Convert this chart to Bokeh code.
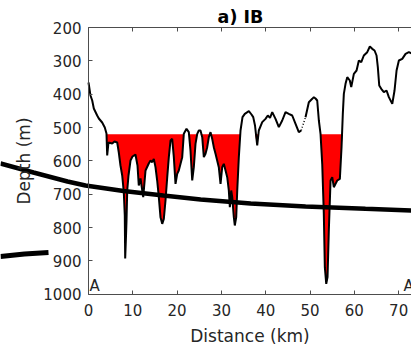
import numpy as np
from bokeh.plotting import figure
from bokeh.models import Range1d, LinearAxis, Label, FixedTicker
from bokeh.embed import file_html
from bokeh.resources import INLINE

# ---- data -------------------------------------------------------------
title_text = "a) IB"
x_ticks = [0, 10, 20, 30, 40, 50, 60, 70]
y_ticks = [200, 300, 400, 500, 600, 700, 800, 900, 1000]
threshold_depth = 520

dist_km = [0.0, 0.45, 0.84, 1.20, 1.96, 2.33, 3.09, 3.68, 4.06, 4.22, 4.51, 5.35, 5.87, 6.48, 6.84,
           7.22, 7.61, 7.97, 8.19, 8.28, 8.47, 8.58, 8.74, 9.03, 9.48, 9.93, 10.6, 11.06, 11.35,
           11.74, 12.35, 12.87, 13.6, 14.0, 14.38, 14.74, 15.12, 15.5, 15.87, 16.25, 16.64, 17.0,
           17.38, 17.77, 18.13, 18.51, 18.89, 19.26, 19.64, 20.02, 20.38, 21.15, 21.51, 22.12,
           22.64, 23.02, 23.41, 23.77, 24.15, 24.54, 24.9, 25.28, 25.67, 26.03, 26.41, 26.79,
           27.16, 27.54, 27.92, 28.28, 28.67, 29.41, 29.8, 30.18, 30.54, 30.93, 31.31, 31.67,
           31.9, 32.21, 32.44, 32.8, 33.02, 33.34, 33.57, 33.93, 34.31, 34.76, 35.28, 36.19,
           36.79, 37.18, 37.58, 38.08, 38.44, 39.21, 39.95, 40.47, 40.97, 41.47, 42.21, 42.96,
           43.72, 44.47, 45.21, 45.98, 46.73, 47.47, 48.01,
           48.98, 49.73, 50.5, 50.86, 51.24, 51.62, 51.99, 52.37, 52.75, 53.11, 53.34, 53.66,
           53.95, 54.24, 54.63, 55.01, 55.37, 55.76, 56.14, 56.73, 57.11, 57.4, 57.63, 58.01,
           58.4, 58.98, 59.3, 59.89, 60.5, 61.02, 61.56, 62.14, 62.91, 63.5, 64.04, 64.56,
           65.01, 65.3, 65.62, 66.07, 66.66, 67.27, 67.79, 68.56, 69.07, 69.53, 70.05, 70.81,
           71.56, 72.3, 73.07]
depth_m = [365, 404, 419, 443, 464, 473, 485, 500, 518, 584, 545, 548, 542, 545, 575,
           614, 644, 695, 764, 893, 824, 779, 689, 644, 599, 587, 581, 614, 674,
           653, 709, 629, 608, 599, 604, 594, 619, 659, 709, 769, 789, 774,
           719, 649, 589, 539, 534, 589, 669, 639, 629, 589, 519, 504,
           514, 569, 659, 619, 549, 519, 509, 509, 529, 589, 579, 559,
           529, 514, 534, 559, 579, 619, 669, 619, 609, 629, 649, 689,
           739, 689, 709, 769, 794, 769, 689, 589, 509, 469, 459, 451,
           461, 469, 494, 554, 509, 484, 474, 464, 471, 454, 474, 499,
           479, 454, 459, 464, 489, 514, 509,
           469, 424, 414, 409, 413, 419, 479, 519, 609, 759, 919, 969,
           949, 809, 659, 649, 679, 669, 659, 654, 559, 459, 399, 369,
           349, 359, 379, 339, 329, 299, 304, 284, 274, 257, 264, 269,
           284, 319, 374, 384, 394, 389, 409, 429, 389, 329, 299, 294,
           279, 274, 279]
gap_start_km = 48.01   # no data between these two distances (drawn dotted)
gap_end_km = 48.98

# overlay curves (from another panel, crossing this one)
curve1_km = [-19.86, -12.42, -4.74, -0.68, 7.9, 16.9, 25.3, 36.6, 49.0, 62.5, 72.9]
curve1_d = [608, 635, 662, 674, 690.5, 704, 716, 728, 737, 744, 749]
curve2_km = [-19.86, -14.45, -9.03]
curve2_d = [887, 879.5, 875]

# ---- figure -------------------------------------------------------------
TXT = "#262626"
AXC = "#4d4d4d"
FONT = "DejaVu Sans"
X0, X1 = 0, 72.9
Y0, Y1 = 200, 1000

p = figure(width=411, height=344, output_backend="svg", toolbar_location=None,
           x_range=Range1d(-19.86, 72.9), y_range=Range1d(1151, 119),
           min_border=0, x_axis_location=None, y_axis_location=None)
p.outline_line_color = None
p.grid.visible = False
p.background_fill_color = "white"
p.border_fill_color = "white"

x = np.array(dist_km, dtype=float)
d = np.array(depth_m, dtype=float)

# red fill where depth exceeds threshold
p.varea(x=x, y1=np.full_like(d, threshold_depth), y2=np.maximum(d, threshold_depth),
        fill_color="#ff0000")

# profile line (solid, with dotted data gap)
m1 = x <= gap_start_km
m2 = x >= gap_end_km
p.multi_line(xs=[list(x[m1]), list(x[m2])], ys=[list(d[m1]), list(d[m2])],
             line_color="black", line_width=2)
gi = [int(np.where(m1)[0][-1]), int(np.where(m2)[0][0])]
p.line(x=[x[gi[0]], x[gi[1]]], y=[d[gi[0]], d[gi[1]]], line_color="black",
       line_width=1.5, line_dash="1 2")

# overlay thick curves
p.line(x=curve1_km, y=curve1_d, line_color="black", line_width=4.5, line_cap="butt")
p.line(x=curve2_km, y=curve2_d, line_color="black", line_width=5, line_cap="butt")


def style(ax, labels=True):
    ax.major_tick_in = 4
    ax.major_tick_out = 0
    ax.minor_tick_line_color = None
    ax.axis_line_color = AXC
    ax.major_tick_line_color = AXC
    if labels:
        ax.major_label_text_color = TXT
        ax.major_label_text_font = FONT
        ax.major_label_text_font_size = "15px"
        ax.axis_label_text_color = TXT
        ax.axis_label_text_font = FONT
        ax.axis_label_text_font_size = "17px"
        ax.axis_label_text_font_style = "normal"
        ax.major_label_standoff = 7
    else:
        ax.major_label_text_color = None


xb = LinearAxis(ticker=FixedTicker(ticks=x_ticks), fixed_location=Y1, bounds=(X0, X1),
                axis_label="Distance (km)")
style(xb)
xb.major_label_standoff = 10
xb.axis_label_standoff = 6
p.add_layout(xb, "below")

yl = LinearAxis(ticker=FixedTicker(ticks=y_ticks), fixed_location=X0, bounds=(Y0, Y1),
                axis_label="Depth (m)", axis_label_standoff=6)
style(yl)
p.add_layout(yl, "left")

xt = LinearAxis(ticker=FixedTicker(ticks=x_ticks), fixed_location=Y0, bounds=(X0, X1))
style(xt, labels=False)
p.add_layout(xt, "above")

# labels
p.add_layout(Label(x=34.3, y=167, text=title_text, text_align="center", text_baseline="middle",
                   text_font=FONT, text_font_size="17.5px", text_font_style="bold", text_color="black"))
p.add_layout(Label(x=0.2, y=1001, text="A", text_align="left", text_baseline="bottom",
                   text_font=FONT, text_font_size="15px", text_color=TXT))
p.add_layout(Label(x=71.1, y=1001, text="A'", text_align="left", text_baseline="bottom",
                   text_font=FONT, text_font_size="15px", text_color=TXT))

open("out.html", "w").write(file_html(p, INLINE))
